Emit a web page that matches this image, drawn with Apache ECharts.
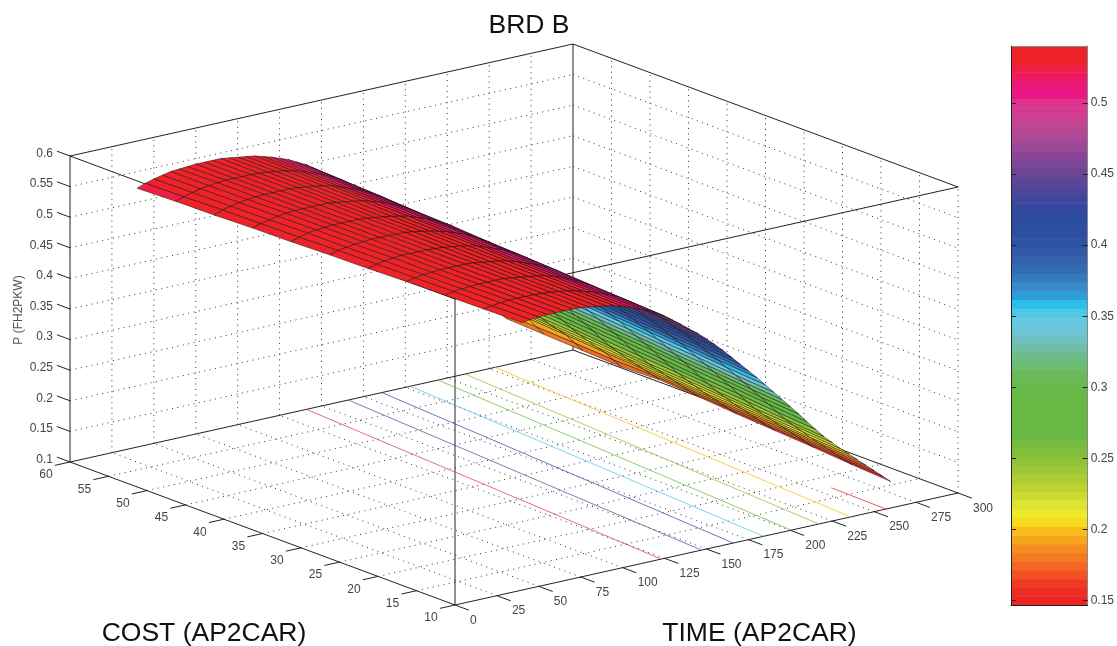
<!DOCTYPE html>
<html>
<head>
<meta charset="utf-8">
<style>html,body{margin:0;padding:0;background:#fff}#c{width:1117px;height:646px}</style>
<script src="https://cdn.jsdelivr.net/npm/echarts@6/dist/echarts.min.js"></script>
</head>
<body>
<div id="c"></div>
<script>
// ---- data ----
var costTicks = [10,15,20,25,30,35,40,45,50,55,60];
var timeTicks = [0,25,50,75,100,125,150,175,200,225,250,275,300];
var powerTicks = [0.1,0.15,0.2,0.25,0.3,0.35,0.4,0.45,0.5,0.55,0.6];
var colorbarTicks = [0.15,0.2,0.25,0.3,0.35,0.4,0.45,0.5];

var timeValues = [40,45,50,55,60,65,70,75,80,85,90,95,100,105,110,115,120,125,130,135,140,145,150,155,160,165,170,175,180,185,190,195,200,205,210,215,220,225,230,235,240,245,250,255,260];
var costValues = [10,15,20,25,30,35,40,45,50,55,60];

var p_c10 = [.537,.539,.540,.541,.541,.541,.541,.540,.538,.536,.534,.531,.527,.522,.517,.511,.504,.496,.486,.476,.465,.455,.443,.431,.418,.404,.390,.376,.362,.347,.332,.317,.302,.287,.271,.256,.241,.228,.215,.203,.191,.179,.167,.155,.143];
var p_c15 = [.536,.538,.540,.541,.541,.541,.541,.540,.539,.537,.535,.532,.528,.524,.519,.513,.507,.499,.490,.480,.469,.459,.447,.435,.423,.409,.395,.381,.367,.352,.337,.322,.307,.292,.277,.261,.246,.233,.220,.207,.195,.183,.171,.159,.147];
var p_c20 = [.535,.538,.539,.540,.541,.541,.541,.541,.539,.537,.535,.533,.530,.526,.521,.515,.509,.502,.493,.483,.473,.462,.452,.440,.427,.414,.400,.386,.372,.358,.343,.328,.313,.298,.283,.267,.252,.237,.224,.212,.200,.188,.176,.164,.152];
var p_c25 = [.534,.537,.539,.540,.541,.541,.541,.541,.540,.538,.536,.534,.531,.527,.522,.517,.511,.505,.497,.487,.477,.466,.456,.444,.432,.419,.405,.391,.377,.363,.348,.333,.318,.303,.288,.272,.257,.242,.229,.216,.204,.192,.180,.168,.156];
var p_c30 = [.532,.536,.538,.540,.541,.541,.541,.541,.540,.539,.537,.535,.532,.529,.524,.519,.514,.507,.500,.491,.481,.470,.460,.448,.436,.424,.410,.396,.382,.368,.354,.339,.324,.309,.294,.278,.263,.248,.234,.221,.208,.196,.184,.172,.160];
var p_c35 = [.531,.535,.537,.539,.540,.541,.541,.541,.540,.540,.538,.536,.533,.530,.526,.521,.516,.510,.502,.494,.484,.474,.463,.453,.441,.428,.415,.401,.387,.373,.359,.344,.329,.314,.299,.284,.268,.253,.238,.225,.213,.201,.189,.177,.165];
var p_c40 = [.529,.533,.537,.539,.540,.541,.541,.541,.541,.540,.538,.536,.534,.531,.528,.523,.518,.512,.505,.498,.488,.478,.467,.457,.445,.433,.420,.406,.392,.378,.364,.349,.334,.319,.304,.289,.274,.258,.243,.230,.217,.205,.193,.181,.169];
var p_c45 = [.528,.532,.535,.538,.540,.541,.541,.541,.541,.541,.539,.537,.535,.533,.529,.525,.520,.514,.508,.500,.491,.481,.471,.460,.449,.437,.425,.411,.397,.383,.369,.355,.340,.325,.310,.295,.279,.264,.249,.235,.222,.209,.197,.182,.167];
var p_c50 = [.526,.531,.534,.537,.539,.540,.541,.541,.541,.541,.540,.538,.536,.534,.531,.526,.521,.516,.510,.503,.495,.485,.475,.464,.454,.442,.429,.416,.402,.388,.374,.360,.345,.330,.315,.300,.285,.269,.254,.239,.226,.214,.202,.186,.170];
var p_c55 = [.525,.529,.533,.536,.538,.540,.541,.541,.541,.541,.540,.539,.537,.535,.532,.528,.523,.518,.512,.506,.498,.488,.478,.468,.457,.446,.434,.421,.407,.393,.379,.365,.351,.336,.321,.306,.291,.275,.260,.245,.231,.218,.206,.189,.173];
var p_c60 = [.523,.528,.532,.535,.538,.539,.540,.541,.541,.541,.541,.539,.537,.535,.533,.529,.525,.520,.515,.508,.501,.492,.482,.472,.461,.450,.438,.426,.412,.398,.384,.370,.356,.341,.326,.311,.296,.281,.265,.250,.236,.223,.210,.192,.176];
var powerByCost = [p_c10,p_c15,p_c20,p_c25,p_c30,p_c35,p_c40,p_c45,p_c50,p_c55,p_c60];

// contour lines on the floor: level, and the time where each line ends
var contourLevels    = [0.5,0.45,0.4,0.35,0.3,0.25,0.2,0.15];
var contourCostFar   = [60,60,60,60,60,60,60,17.3];
var contourTimeFar   = [141,166,186,203,219.5,235.6,253.5,258];
var contourTimeNear  = [123,147,166,184,200.5,217,236,257];

var colorStops = [
 [.147,'#ee2326'],[.153,'#ee2326'],[.163,'#f03c25'],[.172,'#f35f23'],[.184,'#f58223'],[.193,'#f8a51e'],[.202,'#f8c819'],[.208,'#f5eb1e'],[.215,'#e6e637'],[.223,'#cddc32'],[.235,'#afcd32'],[.254,'#82be3c'],[.268,'#69b946'],[.299,'#69b946'],[.308,'#69b955'],[.325,'#6ebe96'],[.336,'#6ec3cd'],[.346,'#69c8e1'],[.351,'#5ac8e1'],[.358,'#2dc3f0'],[.363,'#28a5e1'],[.37,'#3c8ccd'],[.38,'#3273b4'],[.392,'#325faa'],[.404,'#2d50a2'],[.423,'#2d4ba0'],[.434,'#41469b'],[.448,'#644696'],[.462,'#874696'],[.476,'#aa4b96'],[.49,'#cd4191'],[.5,'#de328c'],[.507,'#ed1487'],[.516,'#ed1973'],[.523,'#ef1e4a'],[.53,'#ee2228'],[.54,'#ee2226']
];
var barMin = 0.147, barMax = 0.54, bandCount = 64;

// ---- helpers ----
function project(c, t, p) {
  var a = (c - 10) / 50, b = t / 300, h = (p - 0.1) / 0.5;
  return [455 - 385 * a + 503 * b, 605 - 143 * a - 112 * b - 306 * h];
}
function depth(c, t, p) {
  return 482 * (c - 10) / 50 + 369 * t / 300 - 92 * (p - 0.1) / 0.5;
}
function hex(s){return [parseInt(s.substr(1,2),16),parseInt(s.substr(3,2),16),parseInt(s.substr(5,2),16)];}
function stopColor(v){
  if (v <= colorStops[0][0]) return colorStops[0][1];
  for (var i = 1; i < colorStops.length; i++) {
    if (v <= colorStops[i][0]) {
      var f = (v - colorStops[i-1][0]) / (colorStops[i][0] - colorStops[i-1][0]);
      var a = hex(colorStops[i-1][1]), b = hex(colorStops[i][1]);
      return 'rgb(' + Math.round(a[0]+(b[0]-a[0])*f) + ',' + Math.round(a[1]+(b[1]-a[1])*f) + ',' + Math.round(a[2]+(b[2]-a[2])*f) + ')';
    }
  }
  return colorStops[colorStops.length-1][1];
}
var bandColors = [];
for (var bi = 0; bi < bandCount; bi++) bandColors.push(stopColor(barMin + (bi + 0.5) * (barMax - barMin) / bandCount));
function bandOf(v){
  var k = Math.floor((v - barMin) / (barMax - barMin) * bandCount);
  return bandColors[Math.max(0, Math.min(bandCount - 1, k))];
}

// ---- surface quads, far to near ----
var quads = [];
for (var ci = 0; ci < costValues.length - 1; ci++) {
  for (var ti = 0; ti < timeValues.length - 1; ti++) {
    var pm = (powerByCost[ci][ti] + powerByCost[ci+1][ti] + powerByCost[ci][ti+1] + powerByCost[ci+1][ti+1]) / 4;
    quads.push([ci, ti, depth((costValues[ci]+costValues[ci+1])/2, (timeValues[ti]+timeValues[ti+1])/2, pm), pm]);
  }
}
quads.sort(function(x, y){ return y[2] - x[2]; });

// ---- box: c1,t1,p1,c2,t2,p2,kind (0 solid, 1 dotted, 2 tick) ----
var segs = [];
var C0=10,C1=60,T0=0,T1=300,P0=0.1,P1=0.6;
function seg(a,b,c,d,e,f,k){segs.push([a,b,c,d,e,f,k]);}
costTicks.slice(1,-1).forEach(function(c){
  seg(c,T0,P0,c,T1,P0,1); seg(c,T1,P0,c,T1,P1,1);
});
timeTicks.slice(1,-1).forEach(function(t){
  seg(C0,t,P0,C1,t,P0,1); seg(C1,t,P0,C1,t,P1,1);
});
powerTicks.slice(1,-1).forEach(function(p){
  seg(C1,T0,p,C1,T1,p,1); seg(C1,T1,p,C0,T1,p,1);
});
seg(C0,T1,P0,C0,T1,P1,1);
seg(C0,T0,P0,C1,T0,P0,0); seg(C0,T0,P0,C0,T1,P0,0);
seg(C1,T0,P0,C1,T1,P0,0); seg(C1,T1,P0,C0,T1,P0,0);
seg(C1,T0,P1,C1,T1,P1,0); seg(C1,T1,P1,C0,T1,P1,0);
seg(C1,T0,P1,C0,T0,P1,0); seg(C0,T0,P1,C0,T1,P1,0);
seg(C1,T0,P0,C1,T0,P1,0); seg(C1,T1,P0,C1,T1,P1,0); seg(C0,T0,P0,C0,T0,P1,0);
costTicks.forEach(function(c){ seg(c,T0,P0,c,-9,P0,2); });
timeTicks.forEach(function(t){ seg(C0,t,P0,C0-1.8,t,P0,2); });
powerTicks.forEach(function(p){ seg(C1,T0,p,C1+1.7,T0,p,2); });

// ---- tick labels ----
var labels = [];
costTicks.forEach(function(c){ labels.push([c,T0,P0,String(c),-24,13,'center']); });
timeTicks.forEach(function(t){ labels.push([C0,t,P0,String(t),15,15.5,'left']); });
powerTicks.forEach(function(p){ labels.push([C1,T0,p,String(p),-17,-2.5,'right']); });

var lineStyles = [
  {stroke:'#222',lineWidth:1},
  {stroke:'#333',lineWidth:1,lineDash:[1,4.5]},
  {stroke:'#222',lineWidth:1}
];
var FONT = '"Liberation Sans", Arial, sans-serif';

var option = {
  animation:false,
  backgroundColor:'#fff',
  grid:[
    {left:0,top:0,width:1117,height:646,show:false},
    {left:1011,top:46,width:78,height:559,show:false}
  ],
  xAxis:[
    {gridIndex:0,type:'value',min:0,max:1117,show:false},
    {gridIndex:1,type:'value',min:0,max:1,position:'top',z:5,
     axisLine:{show:true,onZero:false,lineStyle:{color:'#888'}},axisTick:{show:false},axisLabel:{show:false},splitLine:{show:false}},
    {gridIndex:1,type:'value',min:0,max:1,position:'bottom',z:5,
     axisLine:{show:true,onZero:false,lineStyle:{color:'#222'}},axisTick:{show:false},axisLabel:{show:false},splitLine:{show:false}}
  ],
  yAxis:[
    {gridIndex:0,type:'value',min:0,max:646,inverse:true,show:false},
    {gridIndex:1,type:'value',min:barMin,max:barMax,position:'right',z:5,splitLine:{show:false},
     axisLine:{show:true,onZero:false,lineStyle:{color:'#888'}},
     axisTick:{show:true,inside:true,length:5,lineStyle:{color:'#222'},customValues:colorbarTicks},
     axisLabel:{show:true,color:'#444',fontSize:12,fontFamily:FONT,margin:3,customValues:colorbarTicks,formatter:function(v){return String(v);}}},
    {gridIndex:1,type:'value',min:barMin,max:barMax,position:'left',z:5,splitLine:{show:false},
     axisLine:{show:true,onZero:false,lineStyle:{color:'#222'}},
     axisTick:{show:true,inside:true,length:5,lineStyle:{color:'#222'},customValues:colorbarTicks},
     axisLabel:{show:false}}
  ],
  graphic:[
    {type:'text',style:{text:'BRD B',font:'26.5px '+FONT,fill:'#111',x:529,y:26,align:'center',verticalAlign:'middle'}},
    {type:'text',style:{text:'COST (AP2CAR)',font:'26.5px '+FONT,fill:'#111',x:204,y:634,align:'center',verticalAlign:'middle'}},
    {type:'text',style:{text:'TIME (AP2CAR)',font:'26.5px '+FONT,fill:'#111',x:759.5,y:634,align:'center',verticalAlign:'middle'}},
    {type:'text',rotation:Math.PI/2,x:19,y:310,style:{text:'P (FH2PKW)',font:'12px '+FONT,fill:'#555',align:'center',verticalAlign:'middle'}}
  ],
  series:[
    {type:'custom',coordinateSystem:'cartesian2d',xAxisIndex:0,yAxisIndex:0,z:1,silent:true,clip:false,progressive:0,
     data:segs,
     encode:{x:[],y:[]},
     renderItem:function(params,api){
       var d=segs[params.dataIndex];
       var a=api.coord(project(d[0],d[1],d[2])), b=api.coord(project(d[3],d[4],d[5]));
       return {type:'line',shape:{x1:a[0],y1:a[1],x2:b[0],y2:b[1]},style:lineStyles[d[6]]};
     }},
    {type:'custom',coordinateSystem:'cartesian2d',xAxisIndex:0,yAxisIndex:0,z:2,silent:true,clip:false,progressive:0,
     data:contourLevels.map(function(l,i){return [i];}),
     encode:{x:[],y:[]},
     renderItem:function(params,api){
       var i=params.dataIndex, l=contourLevels[i];
       var a=api.coord(project(contourCostFar[i],contourTimeFar[i],P0)), b=api.coord(project(C0,contourTimeNear[i],P0));
       return {type:'line',shape:{x1:a[0],y1:a[1],x2:b[0],y2:b[1]},style:{stroke:bandOf(l),lineWidth:1,opacity:0.75}};
     }},
    {type:'custom',coordinateSystem:'cartesian2d',xAxisIndex:0,yAxisIndex:0,z:3,silent:true,clip:false,progressive:0,
     data:quads,
     encode:{x:[],y:[]},
     renderItem:function(params,api){
       var q=quads[params.dataIndex], i=q[0], j=q[1];
       var pts=[[i,j],[i+1,j],[i+1,j+1],[i,j+1]].map(function(u){
         return api.coord(project(costValues[u[0]],timeValues[u[1]],powerByCost[u[0]][u[1]]));
       });
       return {type:'polygon',shape:{points:pts},style:{fill:bandOf(q[3]),stroke:'#111',lineWidth:0.5}};
     }},
    {type:'custom',coordinateSystem:'cartesian2d',xAxisIndex:0,yAxisIndex:0,z:4,silent:true,clip:false,progressive:0,
     data:labels,
     encode:{x:[],y:[]},
     renderItem:function(params,api){
       var d=labels[params.dataIndex];
       var a=api.coord(project(d[0],d[1],d[2]));
       return {type:'text',style:{text:d[3],x:a[0]+d[4],y:a[1]+d[5],font:'12px '+FONT,fill:'#444',align:d[6],verticalAlign:'middle'}};
     }},
    {type:'custom',coordinateSystem:'cartesian2d',xAxisIndex:1,yAxisIndex:1,z:1,silent:true,progressive:0,
     data:bandColors.map(function(c,i){return [i];}),
     encode:{x:[],y:[]},
     renderItem:function(params,api){
       var i=params.dataIndex, s=(barMax-barMin)/bandCount;
       var a=api.coord([0,barMin+i*s]), b=api.coord([1,barMin+(i+1)*s]);
       return {type:'rect',shape:{x:a[0],y:b[1],width:b[0]-a[0],height:a[1]-b[1]+0.6},style:{fill:bandColors[i]}};
     }}
  ]
};
var chart = echarts.init(document.getElementById('c'),null,{renderer:'canvas'});
chart.setOption(option);
</script>
</body>
</html>
